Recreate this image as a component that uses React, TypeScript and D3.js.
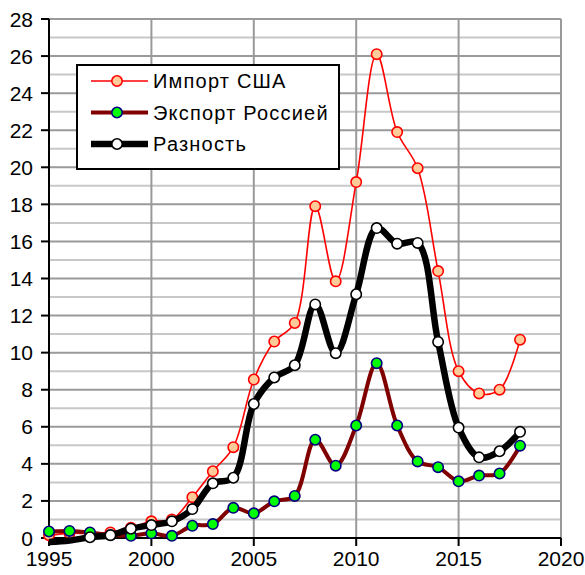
import * as d3 from "d3";

const years = d3.range(1995, 2019);
// млрд долл.
const importUSA = [0.15, 0.25, 0.25, 0.3, 0.55, 0.9, 1.0, 2.2, 3.6, 4.9, 8.55, 10.6, 11.6, 17.9, 13.85, 19.2, 26.1, 21.9, 19.95, 14.4, 9.0, 7.8, 8.0, 10.7];
const exportRussia = [0.35, 0.38, 0.3, 0.16, 0.12, 0.25, 0.12, 0.66, 0.75, 1.63, 1.33, 1.98, 2.27, 5.3, 3.9, 6.07, 9.43, 6.07, 4.13, 3.82, 3.06, 3.37, 3.48, 4.98];
const difference = [-0.22, -0.14, 0.04, 0.15, 0.5, 0.7, 0.9, 1.56, 2.95, 3.25, 7.23, 8.66, 9.32, 12.6, 9.97, 13.15, 16.72, 15.88, 15.92, 10.58, 5.96, 4.35, 4.68, 5.73];
const xTicks = [1995, 2000, 2005, 2010, 2015, 2020];
const yTicks = d3.range(0, 29, 2);

const series = [
  { name: "Импорт США", values: importUSA, line: "#ff0000", lw: 1.6, fill: "#ffcc99", stroke: "#ff0000" },
  { name: "Экспорт Россией", values: exportRussia, line: "#800000", lw: 4, fill: "#00ff00", stroke: "#000080" },
  { name: "Разность", values: difference, line: "#000000", lw: 6.5, fill: "#ffffff", stroke: "#000000" },
];

const W = 585;
const H = 575;
const x = d3.scaleLinear().domain([1995, 2020]).range([49, 561]);
const y = d3.scaleLinear().domain([0, 28]).range([538, 19]);

const font = "'Liberation Sans', Arial, sans-serif";

export default function App() {
  const line = d3
    .line<number>()
    .x((_, i) => x(years[i]))
    .y((d) => y(d))
    .curve(d3.curveCatmullRom.alpha(0.5));

  const minor = d3.range(1, 28, 2);

  return (
    <svg width={W} height={H} style={{ position: "absolute", left: 0, top: 0 }} fontFamily={font}>
      <rect width={W} height={H} fill="#fff" />
      {/* grid */}
      {minor.map((v) => (
        <line key={"m" + v} x1={x(1995)} x2={x(2020)} y1={y(v)} y2={y(v)} stroke="#c8c8c8" strokeWidth={2} />
      ))}
      {yTicks.map((v) => (
        <line key={"g" + v} x1={x(1995)} x2={x(2020)} y1={y(v)} y2={y(v)} stroke="#9a9a9a" strokeWidth={2} />
      ))}
      {xTicks.map((v) => (
        <line key={"v" + v} x1={x(v)} x2={x(v)} y1={y(0)} y2={y(28)} stroke="#9a9a9a" strokeWidth={2} />
      ))}
      {/* axes */}
      <line x1={x(1995)} x2={x(1995)} y1={y(28)} y2={y(0) + 1} stroke="#000" strokeWidth={2} />
      <line x1={x(1995)} x2={x(2020)} y1={y(0)} y2={y(0)} stroke="#000" strokeWidth={2} />
      {yTicks.map((v) => (
        <g key={"yt" + v}>
          <line x1={x(1995) - 8} x2={x(1995)} y1={y(v)} y2={y(v)} stroke="#000" strokeWidth={2} />
          <text x={33} y={y(v)} dy="0.36em" textAnchor="end" fontSize={21}>
            {v}
          </text>
        </g>
      ))}
      {xTicks.map((v) => (
        <g key={"xt" + v}>
          <line x1={x(v)} x2={x(v)} y1={y(0)} y2={y(0) + 8} stroke="#000" strokeWidth={2} />
          <text x={x(v)} y={566} textAnchor="middle" fontSize={21}>
            {v}
          </text>
        </g>
      ))}
      {/* series */}
      {series.map((s) => (
        <g key={s.name}>
          <path d={line(s.values) || ""} fill="none" stroke={s.line} strokeWidth={s.lw} strokeLinejoin="round" />
          {s.values.map((v, i) =>
            v < 0 ? null : (
              <circle key={i} cx={x(years[i])} cy={y(v)} r={5.2} fill={s.fill} stroke={s.stroke} strokeWidth={1.6} />
            )
          )}
        </g>
      ))}
      {/* legend */}
      <g>
        <rect x={77} y={65} width={262} height={104} fill="#fff" stroke="#000" strokeWidth={2} />
        {series.map((s, i) => {
          const ly = 81 + i * 31.5;
          return (
            <g key={"l" + i}>
              <line x1={91} x2={148} y1={ly} y2={ly} stroke={s.line} strokeWidth={s.lw} />
              <circle cx={117} cy={ly} r={5.2} fill={s.fill} stroke={s.stroke} strokeWidth={1.6} />
              <text x={153} y={ly} dy="0.36em" fontSize={20} letterSpacing={1.2}>
                {s.name}
              </text>
            </g>
          );
        })}
      </g>
    </svg>
  );
}
